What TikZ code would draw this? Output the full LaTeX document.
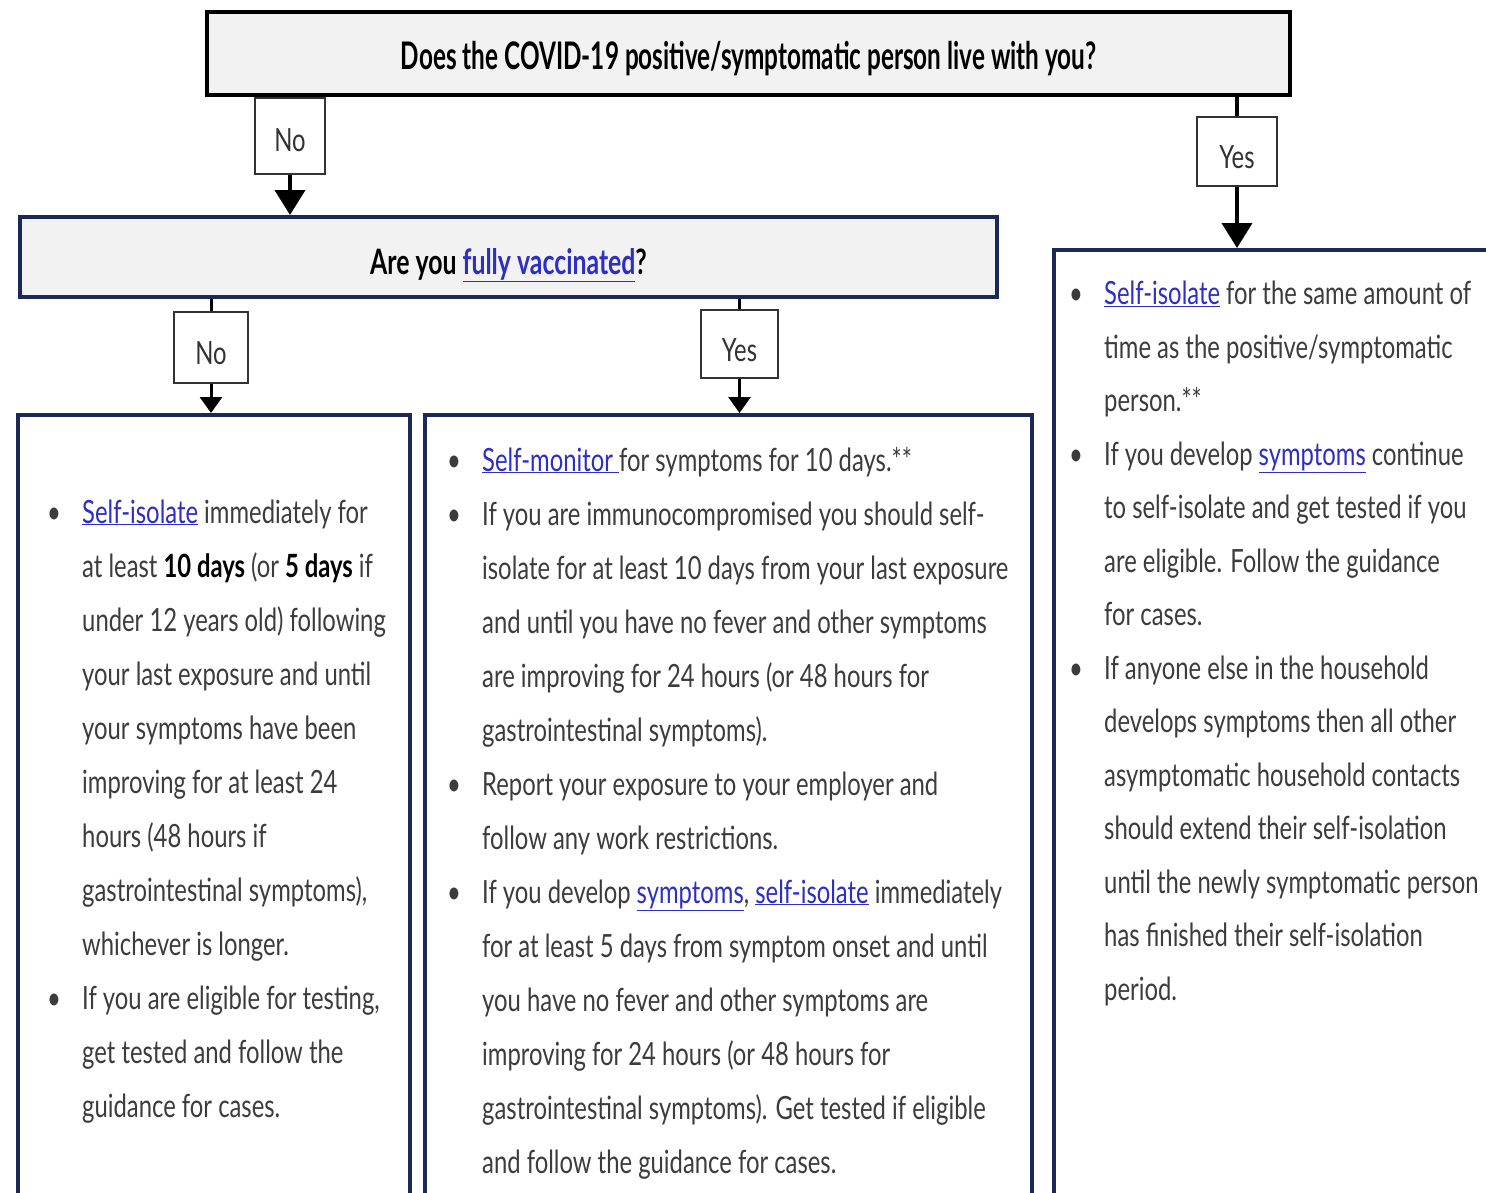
\documentclass[tikz,border=0pt]{standalone}
\usepackage{fontspec}
\setmainfont{Lato}[FakeStretch=0.745]
\newfontfamily\headfont{Lato}[FakeStretch=0.64]
\newfontfamily\headfontb{Lato}[FakeStretch=0.71]
\usetikzlibrary{arrows.meta}
\definecolor{navy}{RGB}{27,40,88}
\definecolor{lnk}{RGB}{45,45,200}
\definecolor{bodytxt}{RGB}{60,60,60}
\definecolor{boxgray}{RGB}{242,242,242}
\definecolor{lblgray}{RGB}{50,50,50}
\newcommand\lnk[1]{\textcolor{lnk}{\underline{#1}}}
\newcommand\bd[1]{\textbf{\color{black}#1}}
% lower text within a centred node: #1 = twice the shift
\newcommand\lowerby[2]{\raisebox{0pt}[\dimexpr\height+#1\relax][\depth]{#2}}
\begin{document}
\begin{tikzpicture}[x=1pt,y=-1pt,
  qbox/.style={draw=black, line width=4pt, fill=boxgray, inner sep=0pt,
    font=\headfont\bfseries\fontsize{38}{40}\selectfont},
  q2box/.style={draw=navy, line width=4pt, fill=boxgray, inner sep=0pt,
    font=\headfontb\bfseries\fontsize{35}{40}\selectfont},
  lbl/.style={draw=lblgray, line width=2.5pt, fill=white, inner sep=0pt,
    text=lblgray, font=\fontsize{32}{36}\selectfont},
  outbox/.style={draw=navy, line width=4pt, fill=white, inner sep=0pt},
  bigarrow/.style={line width=4pt, -{Triangle[width=30pt,length=25pt]}},
  smallarrow/.style={line width=3pt, -{Triangle[width=22pt,length=16pt]}},
  bigline/.style={line width=4pt},
  smallline/.style={line width=3pt},
  bodytext/.style={anchor=base west, inner sep=0pt, text=bodytxt}
]
\useasboundingbox[fill=white] (0,0) rectangle (1486,1192);

% boxes
\node[qbox, minimum width=1083pt, minimum height=83pt] (top) at (748.5,53.5)
  {\lowerby{10pt}{Does the COVID-19 positive/symptomatic person live with you?}};
\node[q2box, minimum width=977pt, minimum height=80pt] (vac) at (508.5,257)
  {\lowerby{16pt}{Are you \lnk{fully vaccinated}?}};
\node[outbox, minimum width=392pt, minimum height=815pt] (left) at (214,822.5) {};
\node[outbox, minimum width=607pt, minimum height=815pt] (mid) at (728.5,822.5) {};
\node[outbox, minimum width=466pt, minimum height=980pt] (right) at (1287,740) {};

% labels
\node[lbl, minimum width=70pt, minimum height=76pt] (no1) at (290,136) {\lowerby{8pt}{No}};
\node[lbl, minimum width=80pt, minimum height=69pt] (yes1) at (1237,151.5) {\lowerby{12pt}{Yes}};
\node[lbl, minimum width=74pt, minimum height=71pt] (no2) at (211,347.5) {\lowerby{12pt}{No}};
\node[lbl, minimum width=77pt, minimum height=68pt] (yes2) at (739.5,344) {\lowerby{12pt}{Yes}};

% connectors
\draw[bigarrow] (no1.south) -- (no1.south |- vac.north);
\draw[bigline] (top.south -| yes1) -- (yes1.north);
\draw[bigarrow] (yes1.south) -- (yes1.south |- right.north);
\draw[smallline] (vac.south -| no2) -- (no2.north);
\draw[smallarrow] (no2.south) -- (no2.south |- left.north);
\draw[smallline] (vac.south -| yes2) -- (yes2.north);
\draw[smallarrow] (yes2.south) -- (yes2.south |- mid.north);

% texts
\node[bodytext, font=\fontsize{32}{54}\selectfont] (lefttext) at (47,523) {%
\begin{tabular}[t]{@{}p{35pt}@{}l@{}}
\textbullet & \lnk{Self-isolate} immediately for\\
 & at least \bd{10 days} (or \bd{5 days} if\\
 & under 12 years old) following\\
 & your last exposure and until\\
 & your symptoms have been\\
 & improving for at least 24\\
 & hours (48 hours if\\
 & gastrointestinal symptoms),\\
 & whichever is longer.\\
\textbullet & If you are eligible for testing,\\
 & get tested and follow the\\
 & guidance for cases.
\end{tabular}};

\node[bodytext, font=\fontsize{32}{54}\selectfont] (midtext) at (447,471) {%
\begin{tabular}[t]{@{}p{35pt}@{}l@{}}
\textbullet & \lnk{Self-monitor\ }for symptoms for 10 days.**\\
\textbullet & If you are immunocompromised you should self-\\
 & isolate for at least 10 days from your last exposure\\
 & and until you have no fever and other symptoms\\
 & are improving for 24 hours (or 48 hours for\\
 & gastrointestinal symptoms).\\
\textbullet & Report your exposure to your employer and\\
 & follow any work restrictions.\\
\textbullet & If you develop \lnk{symptoms}, \lnk{self-isolate} immediately\\
 & for at least 5 days from symptom onset and until\\
 & you have no fever and other symptoms are\\
 & improving for 24 hours (or 48 hours for\\
 & gastrointestinal symptoms). Get tested if eligible\\
 & and follow the guidance for cases.
\end{tabular}};

\node[bodytext, font=\fontsize{32}{53.5}\selectfont] (righttext) at (1069,304.5) {%
\begin{tabular}[t]{@{}p{35pt}@{}l@{}}
\textbullet & \lnk{Self-isolate} for the same amount of\\
 & time as the positive/symptomatic\\
 & person.**\\
\textbullet & If you develop \lnk{symptoms} continue\\
 & to self-isolate and get tested if you\\
 & are eligible. Follow the guidance\\
 & for cases.\\
\textbullet & If anyone else in the household\\
 & develops symptoms then all other\\
 & asymptomatic household contacts\\
 & should extend their self-isolation\\
 & until the newly symptomatic person\\
 & has finished their self-isolation\\
 & period.
\end{tabular}};
\end{tikzpicture}
\end{document}
